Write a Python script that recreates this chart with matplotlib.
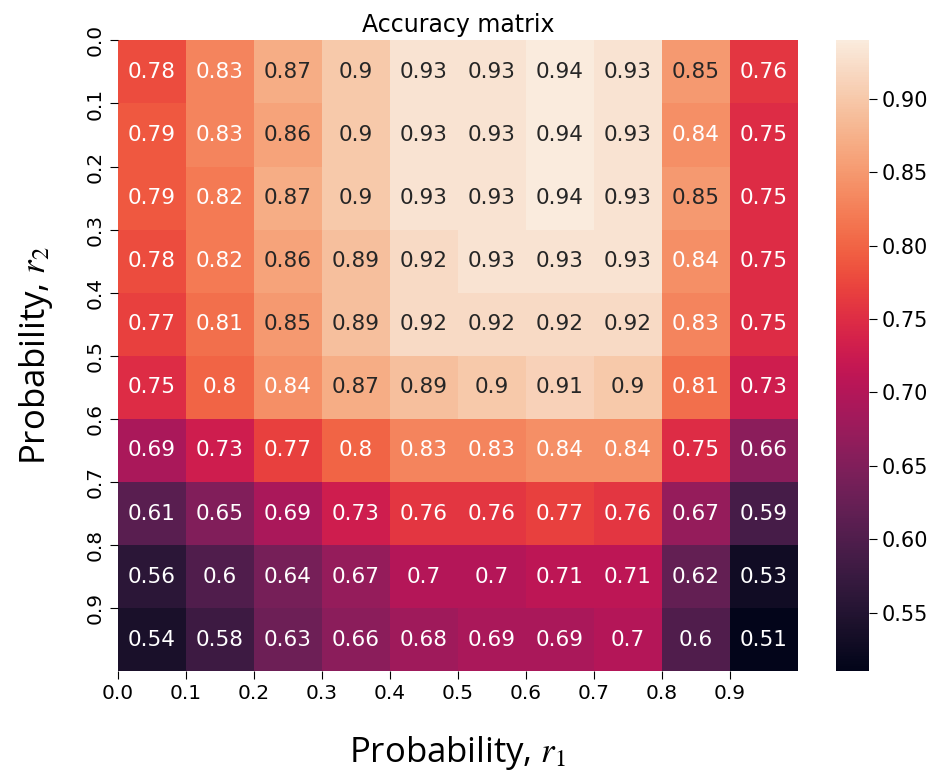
import matplotlib
matplotlib.use("Agg")
import matplotlib.pyplot as plt
import numpy as np
import seaborn as sns

r1_labels = ["0.0", "0.1", "0.2", "0.3", "0.4", "0.5", "0.6", "0.7", "0.8", "0.9"]
r2_labels = ["0.0", "0.1", "0.2", "0.3", "0.4", "0.5", "0.6", "0.7", "0.8", "0.9"]

row_00 = [0.78, 0.83, 0.87, 0.90, 0.93, 0.93, 0.94, 0.93, 0.85, 0.76]
row_01 = [0.79, 0.83, 0.86, 0.90, 0.93, 0.93, 0.94, 0.93, 0.84, 0.75]
row_02 = [0.79, 0.82, 0.87, 0.90, 0.93, 0.93, 0.94, 0.93, 0.85, 0.75]
row_03 = [0.78, 0.82, 0.86, 0.89, 0.92, 0.93, 0.93, 0.93, 0.84, 0.75]
row_04 = [0.77, 0.81, 0.85, 0.89, 0.92, 0.92, 0.92, 0.92, 0.83, 0.75]
row_05 = [0.75, 0.80, 0.84, 0.87, 0.89, 0.90, 0.91, 0.90, 0.81, 0.73]
row_06 = [0.69, 0.73, 0.77, 0.80, 0.83, 0.83, 0.84, 0.84, 0.75, 0.66]
row_07 = [0.61, 0.65, 0.69, 0.73, 0.76, 0.76, 0.77, 0.76, 0.67, 0.59]
row_08 = [0.56, 0.60, 0.64, 0.67, 0.70, 0.70, 0.71, 0.71, 0.62, 0.53]
row_09 = [0.54, 0.58, 0.63, 0.66, 0.68, 0.69, 0.69, 0.70, 0.60, 0.51]

acc = np.array([row_00, row_01, row_02, row_03, row_04,
                row_05, row_06, row_07, row_08, row_09])

plt.rcParams['mathtext.fontset'] = 'stix'

fig = plt.figure(figsize=(9.42, 7.76), dpi=100)
ax = fig.add_axes([0.125, 0.135, 0.722, 0.813])
cax = fig.add_axes([0.887, 0.135, 0.035, 0.813])

sns.heatmap(acc, ax=ax, cbar_ax=cax, cmap="rocket", annot=True,
            annot_kws={"size": 15.5})

ax.set_xticks(np.arange(10))
ax.set_xticklabels(r1_labels, fontsize=14.5, rotation=0)
ax.set_yticks(np.arange(10))
ax.set_yticklabels(r2_labels, fontsize=14.5, rotation=90, va="center")
ax.tick_params(length=6)
ax.set_title("Accuracy matrix", fontsize=17, pad=6)
ax.set_xlabel(r"Probability, $r_1$", fontsize=25, family="Open Sans", labelpad=22)
ax.set_ylabel(r"Probability, $r_2$", fontsize=25, family="Open Sans", labelpad=22)

cax.tick_params(labelsize=15, length=6)

fig.savefig("out.png", dpi=100)
